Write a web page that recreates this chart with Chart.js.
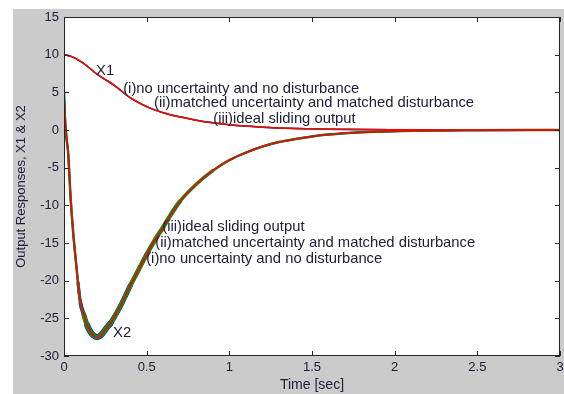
<!DOCTYPE html>
<html lang="en">
<head>
<meta charset="UTF-8">
<title>Output Responses, X1 &amp; X2</title>
<style>
  body { margin: 0; background: #ffffff; }
  .frame { position: absolute; left: 13px; top: 9px; width: 551px; height: 385px; background: #cbcbcb; }
  #chart { position: absolute; left: 0; top: 0; }
</style>
</head>
<body>
<div class="frame"></div>
<canvas id="chart" width="564" height="394"></canvas>
<script src="https://cdn.jsdelivr.net/npm/chart.js"></script>
<script>
// time samples (sec) and responses
const tX1 = [0, 0.05, 0.1, 0.15, 0.2, 0.25, 0.3, 0.4, 0.5, 0.6, 0.7, 0.8, 0.9, 1.0, 1.2, 1.4, 1.6, 1.8, 2.0, 2.5, 3.0];
const x1 = [10, 9.7, 9.1, 8.3, 7.4, 6.7, 6.0, 4.3, 3.1, 2.3, 1.75, 1.3, 0.95, 0.7, 0.38, 0.2, 0.1, 0.05, 0.03, 0.01, 0];

const tX2 = [0, 0.005, 0.015, 0.025, 0.04, 0.055, 0.07, 0.085, 0.1, 0.12, 0.14, 0.16, 0.18, 0.2, 0.22, 0.24, 0.26, 0.28, 0.3,
             0.35, 0.4, 0.45, 0.5, 0.55, 0.6, 0.65, 0.7, 0.8, 0.9, 1.0, 1.1, 1.2, 1.3, 1.4, 1.5, 1.6, 1.8, 2.0, 2.5, 3.0];
const x2 = [5, 2, -1, -3, -9, -13.5, -17, -20.3, -23, -24.5, -25.9, -26.8, -27.3, -27.5, -27.3, -26.8, -26.2, -25.7, -25,
            -23, -20.7, -18.6, -16.5, -14.6, -12.9, -11.1, -9.5, -7.2, -5.4, -4.0, -3.0, -2.2, -1.6, -1.2, -0.85, -0.6, -0.3, -0.15, -0.03, 0];

const xTicks = { min: 0, max: 3, step: 0.5 };
const yTicks = { min: -30, max: 15, step: 5 };

const pts = (ts, vs) => ts.map((t, i) => ({ x: t, y: vs[i] }));

// chattering of the switching control shows as a wider band round the minimum
function band(bands, base) {
  return ctx => {
    const t = ctx.p0.parsed.x;
    for (const b of bands) if (t >= b[0] && t < b[1]) return b[2];
    return base;
  };
}

const textColor = '#20203a';
const font = 'Arial, "Liberation Sans", sans-serif';

const paperPlugin = {
  id: 'paper',
  beforeDraw(chart) {
    const { ctx, chartArea: a } = chart;
    ctx.save();
    ctx.fillStyle = '#ffffff';
    ctx.fillRect(a.left, a.top, a.right - a.left, a.bottom - a.top);
    ctx.restore();
  },
  afterDraw(chart, args, opts) {
    const { ctx, chartArea: a, scales } = chart;
    ctx.save();
    ctx.strokeStyle = '#262626';
    ctx.lineWidth = 1;
    ctx.strokeRect(a.left + 0.5, a.top + 0.5, a.right - a.left - 1, a.bottom - a.top - 1);
    ctx.beginPath();
    scales.x.ticks.forEach(tk => {
      const px = Math.round(scales.x.getPixelForValue(tk.value)) + 0.5;
      ctx.moveTo(px, a.bottom); ctx.lineTo(px, a.bottom - 5);
      ctx.moveTo(px, a.top); ctx.lineTo(px, a.top + 5);
    });
    scales.y.ticks.forEach(tk => {
      const py = Math.round(scales.y.getPixelForValue(tk.value)) + 0.5;
      ctx.moveTo(a.left, py); ctx.lineTo(a.left + 5, py);
      ctx.moveTo(a.right, py); ctx.lineTo(a.right - 5, py);
    });
    ctx.stroke();

    ctx.fillStyle = textColor;
    ctx.font = '14.8px ' + font;
    ctx.textBaseline = 'middle';
    ctx.textAlign = 'left';
    opts.notes.forEach(n => {
      ctx.fillText(n.text, scales.x.getPixelForValue(n.t), scales.y.getPixelForValue(n.v));
    });
    ctx.restore();
  }
};

// first dataset is drawn on top: red (ideal) over green (matched) over blue (none)
new Chart(document.getElementById('chart'), {
  type: 'line',
  data: {
    datasets: [
      { label: 'X1 (iii)', data: pts(tX1, x1), borderColor: '#ff0000', borderWidth: 1.5 },
      { label: 'X2 (iii)', data: pts(tX2, x2), borderColor: '#ff0000', borderWidth: 1.5 },
      { label: 'X1 (ii)', data: pts(tX1, x1), borderColor: '#138a13', borderWidth: 1.5 },
      { label: 'X2 (ii)', data: pts(tX2, x2), borderColor: '#138a13', borderWidth: 2.5, borderCapStyle: 'round',
        segment: { borderWidth: band([[0.08, 0.12, 3], [0.12, 0.3, 5], [0.3, 0.7, 4.5], [0.7, 0.9, 3.5]], 2.5) } },
      { label: 'X1 (i)', data: pts(tX1, x1), borderColor: '#0000ff', borderWidth: 1.5 },
      { label: 'X2 (i)', data: pts(tX2, x2), borderColor: '#0000ff', borderWidth: 2, borderCapStyle: 'round',
        segment: { borderWidth: band([[0.08, 0.1, 3], [0.1, 0.14, 4], [0.14, 0.28, 6], [0.28, 0.36, 5], [0.36, 0.5, 4], [0.5, 0.7, 3]], 2) } }
    ]
  },
  options: {
    responsive: false,
    animation: false,
    elements: { point: { radius: 0 }, line: { cubicInterpolationMode: 'monotone', fill: false } },
    layout: { padding: { left: 0, top: 17, right: 4, bottom: 0 } },
    plugins: {
      legend: { display: false },
      tooltip: { enabled: false },
      paper: {
        notes: [
          { text: 'X1', t: 0.194, v: 7.9 },
          { text: '(i)no uncertainty and no disturbance', t: 0.358, v: 5.44 },
          { text: '(ii)matched uncertainty and matched disturbance', t: 0.545, v: 3.58 },
          { text: '(iii)ideal sliding output', t: 0.903, v: 1.46 },
          { text: '(iii)ideal sliding output', t: 0.594, v: -12.88 },
          { text: '(ii)matched uncertainty and matched disturbance', t: 0.552, v: -15.0 },
          { text: '(i)no uncertainty and no disturbance', t: 0.497, v: -17.1 },
          { text: 'X2', t: 0.297, v: -26.95 }
        ]
      }
    },
    scales: {
      x: {
        type: 'linear',
        min: xTicks.min, max: xTicks.max,
        grid: { display: false, drawTicks: false, tickLength: 0 },
        border: { display: false },
        ticks: { stepSize: xTicks.step, color: textColor, font: { size: 13, family: font }, padding: 4, maxRotation: 0,
                 callback: v => String(v) },
        title: { display: true, text: 'Time [sec]', color: textColor, font: { size: 14, family: font }, padding: { top: 0, bottom: 0 } },
        afterFit(scale) { scale.height = 38; scale.paddingRight = 0; scale.paddingLeft = 0; }
      },
      y: {
        min: yTicks.min, max: yTicks.max,
        grid: { display: false, drawTicks: false, tickLength: 0 },
        border: { display: false },
        ticks: { stepSize: yTicks.step, color: textColor, font: { size: 13, family: font }, padding: 5,
                 callback: v => String(v) },
        title: { display: true, text: 'Output Responses, X1 & X2', color: textColor, font: { size: 13, family: font }, padding: { top: 14, bottom: 0 } },
        afterFit(scale) { scale.width = 64; }
      }
    }
  },
  plugins: [paperPlugin]
});
</script>
</body>
</html>
